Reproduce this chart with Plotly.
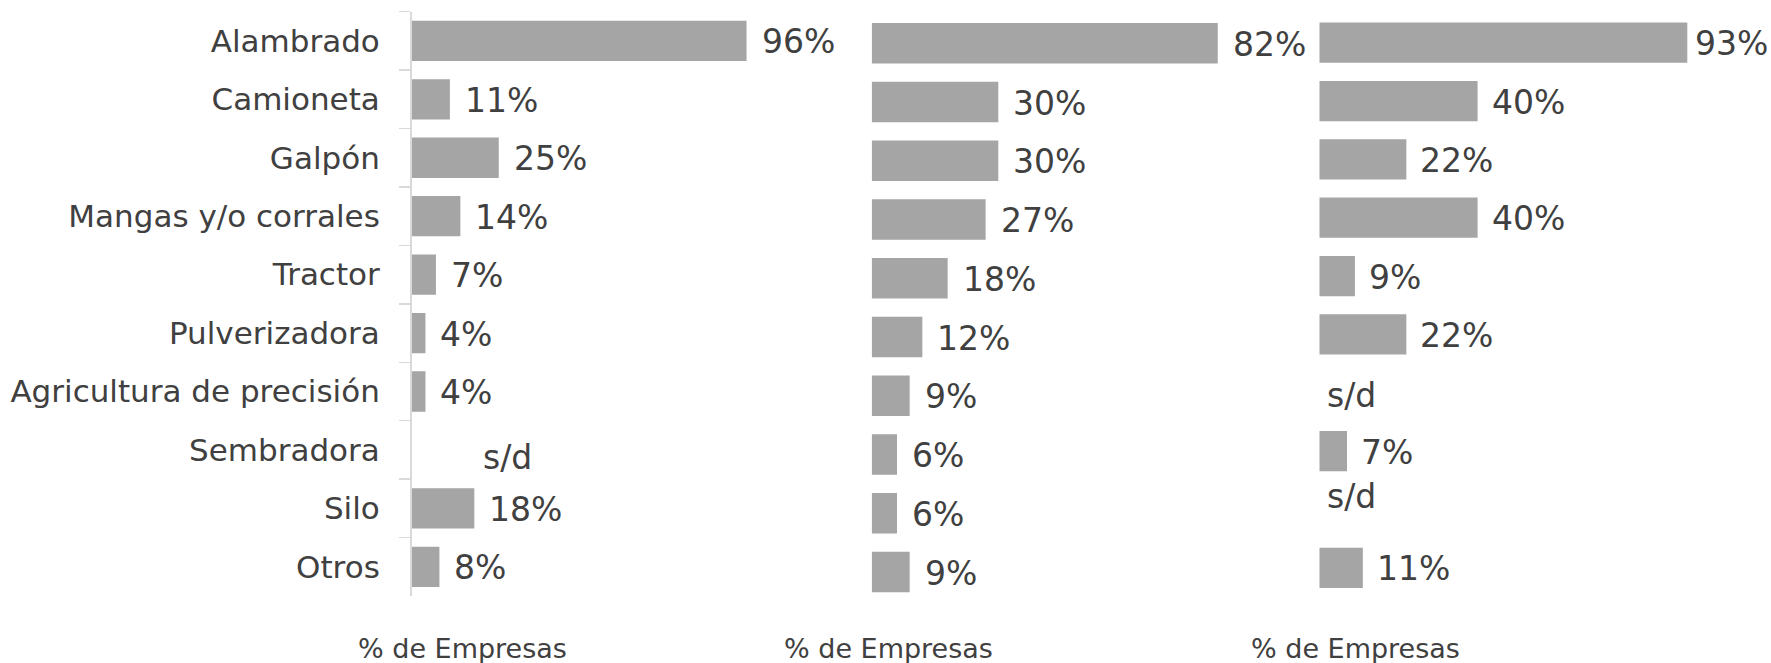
import plotly.graph_objects as go

categories = ["Alambrado", "Camioneta", "Galpón", "Mangas y/o corrales", "Tractor",
              "Pulverizadora", "Agricultura de precisión", "Sembradora", "Silo", "Otros"]
panel1_values = [96, 11, 25, 14, 7, 4, 4, None, 18, 8]
panel2_values = [82, 30, 30, 27, 18, 12, 9, 6, 6, 9]
panel3_values = [93, 40, 22, 40, 9, 22, None, 7, None, 11]
axis_title = "% de Empresas"
missing_label = "s/d"

W, H = 1771, 663
FONT = "DejaVu Sans"
TXT = "#404040"
BAR = "#A5A5A5"
AXIS = "#D9D9D9"


def px_x(a, b):
    return [a / W, b / W]


def px_y(top, bottom):
    return [1 - bottom / H, 1 - top / H]


panels = [
    dict(vals=panel1_values, xd=px_x(411.5, 760.5), yd=px_y(11.7, 596.0), gap=13),
    dict(vals=panel2_values, xd=px_x(871.7, 1293.7), yd=px_y(13.9, 601.4), gap=13),
    dict(vals=panel3_values, xd=px_x(1319.3, 1715.0), yd=px_y(13.5, 597.0), gap=12),
]

fig = go.Figure()
annotations = []
layout = dict(
    width=W, height=H,
    margin=dict(l=0, r=0, t=0, b=0),
    paper_bgcolor="white", plot_bgcolor="white",
    showlegend=False,
    bargap=0.31,
    font=dict(family=FONT, color=TXT),
)

for i, p in enumerate(panels, start=1):
    sfx = "" if i == 1 else str(i)
    xa, ya = "x" + sfx, "y" + sfx
    fig.add_trace(go.Bar(
        x=[v if v is not None else 0 for v in p["vals"]], y=categories,
        orientation="h", marker=dict(color=BAR, line=dict(width=0)),
        xaxis=xa, yaxis=ya, hoverinfo="skip",
    ))
    layout["xaxis" + sfx] = dict(domain=p["xd"], range=[0, 100], visible=False,
                                 anchor=ya, fixedrange=True)
    ydict = dict(domain=p["yd"], anchor=xa, type="category",
                 categoryorder="array", categoryarray=categories,
                 autorange="reversed", showgrid=False, zeroline=False, fixedrange=True)
    if i == 1:
        ydict.update(showline=True, linecolor=AXIS, linewidth=1.5,
                     ticks="outside", ticklen=11, tickcolor=AXIS, tickwidth=1.5,
                     tickson="boundaries", ticklabelstandoff=24,
                     tickfont=dict(family=FONT, size=31, color=TXT))
    else:
        ydict.update(showline=False, ticks="", showticklabels=False)
    layout["yaxis" + sfx] = ydict

    for cat, v in zip(categories, p["vals"]):
        if v is None:
            continue
        gap = p["gap"]
        if i == 3 and v > 90:
            gap = 6  # keep the label inside the page edge, as in the original
        annotations.append(dict(
            x=v, y=cat, xref=xa, yref=ya, text=f"{v}%", showarrow=False,
            xanchor="left", yanchor="middle", xshift=gap, yshift=-1,
            font=dict(family=FONT, size=33, color=TXT),
        ))

# "s/d" (sin dato) labels
sd_specs = [("x", "y", "Sembradora", 20, -8), ("x3", "y3", "Agricultura de precisión", 1.5, -3),
            ("x3", "y3", "Silo", 1.5, 13)]
for xa, ya, cat, xv, ys in sd_specs:
    annotations.append(dict(
        x=xv, y=cat, xref=xa, yref=ya, text=missing_label, showarrow=False,
        xanchor="left", yanchor="middle", yshift=ys,
        font=dict(family=FONT, size=33, color=TXT),
    ))

for cx in [463, 888, 1355]:
    annotations.append(dict(
        x=cx / W, y=0, xref="paper", yref="paper", text=axis_title,
        showarrow=False, xanchor="center", yanchor="bottom", yshift=-3,
        font=dict(family=FONT, size=27, color=TXT),
    ))

layout["annotations"] = annotations
fig.update_layout(**layout)
fig.write_html("out.html", config={"displayModeBar": False, "staticPlot": True},
               post_script="document.body.style.margin='0';document.body.style.overflow='hidden';")
